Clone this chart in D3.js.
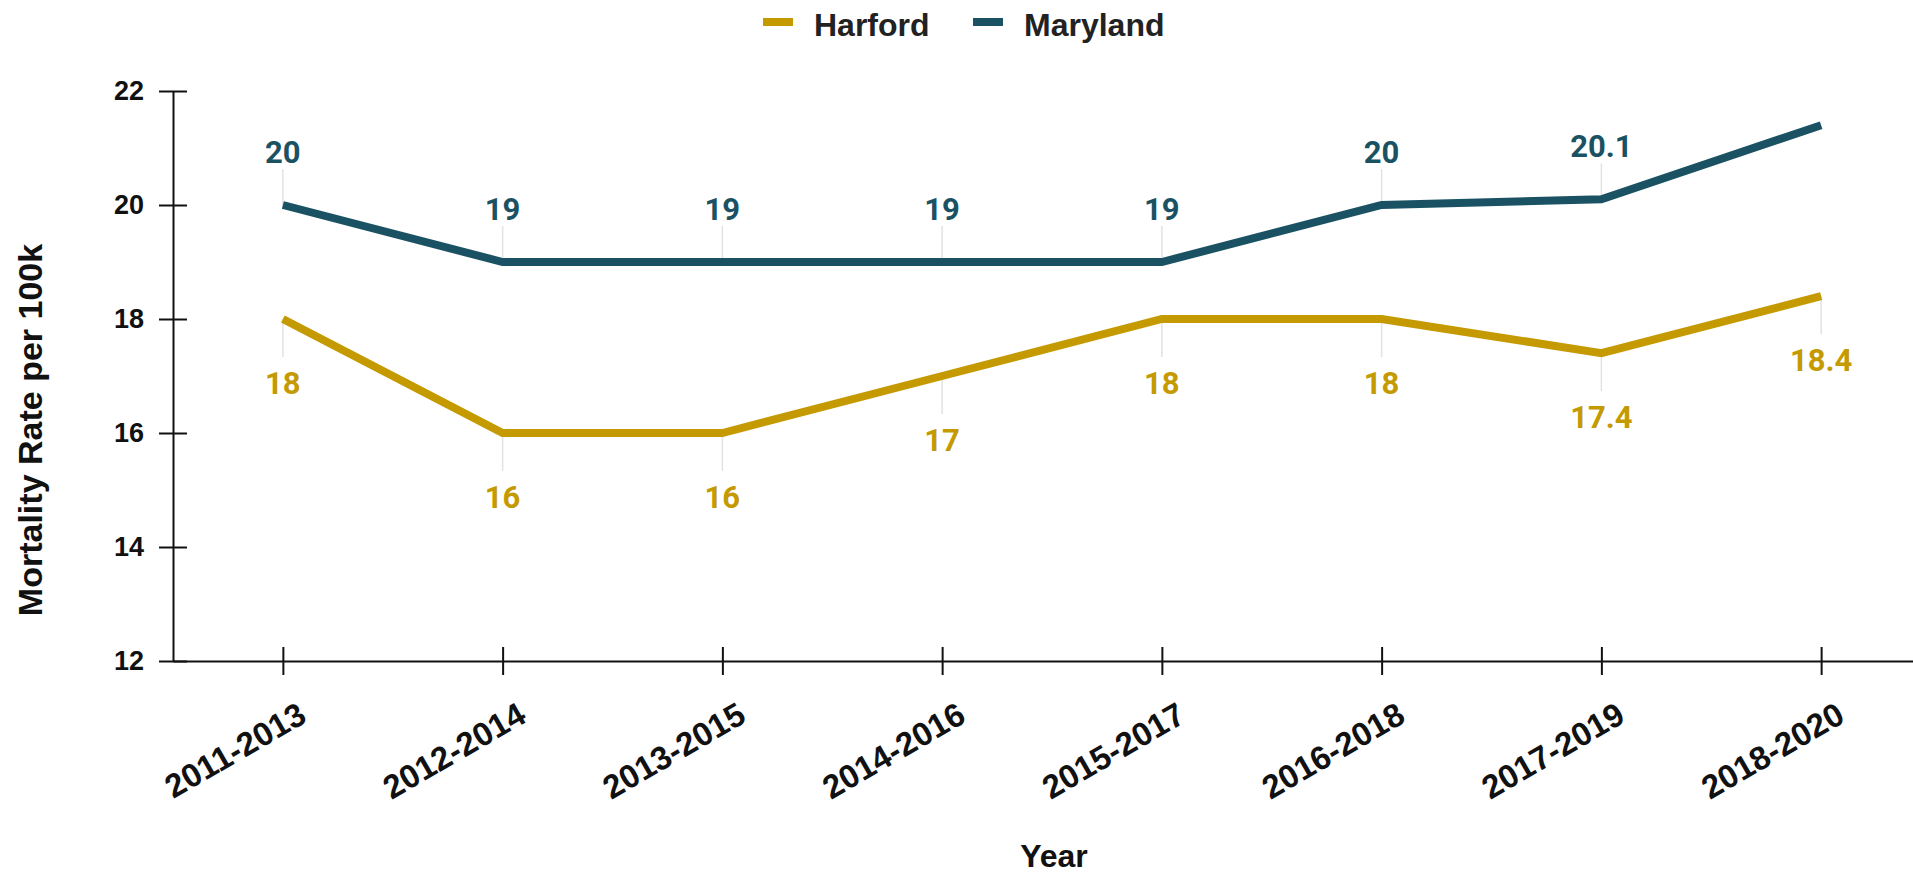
<!DOCTYPE html>
<html>
<head>
<meta charset="utf-8">
<script src="https://cdn.jsdelivr.net/npm/d3@7"></script>
<style>
  body { margin: 0; background: #fff; }
  svg { display: block; }
</style>
</head>
<body>
<div id="chart"></div>
<script>
// data
var periods = ["2011-2013", "2012-2014", "2013-2015", "2014-2016", "2015-2017", "2016-2018", "2017-2019", "2018-2020"];
var harford = [18, 16, 16, 17, 18, 18, 17.4, 18.4];
var maryland = [20, 19, 19, 19, 19, 20, 20.1, 21.4];
var marylandLabelled = [true, true, true, true, true, true, true, false];
var yTicks = [12, 14, 16, 18, 20, 22];
var seriesNames = ["Harford", "Maryland"];

var width = 1913,
    height = 875;

var colors = {
    Harford: "#c49a00",
    Maryland: "#1a5263"
};

var svg = d3.select("#chart")
    .append("svg")
    .attr("width", width)
    .attr("height", height);

var x = d3.scalePoint()
    .domain(periods)
    .range([173, 1931])
    .padding(0.5);

var y = d3.scaleLinear()
    .domain([12, 22])
    .range([661, 91]);

// y axis, ticks cross the line
var yAxis = svg.append("g")
    .attr("transform", "translate(173,0)")
    .call(d3.axisLeft(y).tickValues(yTicks).tickSize(14).tickSizeOuter(0).tickPadding(15));
yAxis.selectAll(".tick line").attr("x1", 14);
yAxis.select(".domain").attr("stroke", "#111").attr("stroke-width", 2);
yAxis.selectAll(".tick line").attr("stroke", "#111").attr("stroke-width", 2);
yAxis.selectAll(".tick text")
    .attr("fill", "#111")
    .style("font-family", "'Liberation Sans', Arial, sans-serif")
    .style("font-weight", "bold")
    .style("font-size", "27px");

// x axis
var xAxis = svg.append("g")
    .attr("transform", "translate(0,661)")
    .call(d3.axisBottom(x).tickSize(14).tickSizeOuter(0));
xAxis.selectAll(".tick line").attr("y1", -14);
xAxis.select(".domain").attr("stroke", "#111").attr("stroke-width", 2);
xAxis.selectAll(".tick line").attr("stroke", "#111").attr("stroke-width", 2);
xAxis.selectAll(".tick text")
    .attr("fill", "#111")
    .attr("text-anchor", "end")
    .attr("y", 0)
    .attr("dy", 0)
    .attr("transform", "translate(25,60) rotate(-30)")
    .style("font-family", "'Liberation Sans', Arial, sans-serif")
    .style("font-weight", "bold")
    .style("font-size", "33px");

// axis titles
svg.append("text")
    .attr("transform", "translate(42,430) rotate(-90)")
    .attr("text-anchor", "middle")
    .attr("fill", "#111")
    .style("font-family", "'Liberation Sans', Arial, sans-serif")
    .style("font-weight", "bold")
    .style("font-size", "34px")
    .text("Mortality Rate per 100k");

svg.append("text")
    .attr("x", 1054)
    .attr("y", 867)
    .attr("text-anchor", "middle")
    .attr("fill", "#111")
    .style("font-family", "'Liberation Sans', Arial, sans-serif")
    .style("font-weight", "bold")
    .style("font-size", "32px")
    .text("Year");

// leader lines
svg.append("g").selectAll("line")
    .data(harford)
    .enter()
    .append("line")
    .attr("x1", function(d, i) { return x(periods[i]); })
    .attr("x2", function(d, i) { return x(periods[i]); })
    .attr("y1", function(d) { return y(d); })
    .attr("y2", function(d) { return y(d) + 38; })
    .attr("stroke", "#e2e2e2")
    .attr("stroke-width", 1.5);

svg.append("g").selectAll("line")
    .data(maryland.filter(function(d, i) { return marylandLabelled[i]; }))
    .enter()
    .append("line")
    .attr("x1", function(d, i) { return x(periods[i]); })
    .attr("x2", function(d, i) { return x(periods[i]); })
    .attr("y1", function(d) { return y(d); })
    .attr("y2", function(d) { return y(d) - 36; })
    .attr("stroke", "#e2e2e2")
    .attr("stroke-width", 1.5);

// lines
var line = d3.line()
    .x(function(d, i) { return x(periods[i]); })
    .y(function(d) { return y(d); });

svg.append("path")
    .datum(harford)
    .attr("fill", "none")
    .attr("stroke", colors.Harford)
    .attr("stroke-width", 8)
    .attr("d", line);

svg.append("path")
    .datum(maryland)
    .attr("fill", "none")
    .attr("stroke", colors.Maryland)
    .attr("stroke-width", 8)
    .attr("d", line);

// value labels
svg.append("g").selectAll("text")
    .data(harford)
    .enter()
    .append("text")
    .attr("x", function(d, i) { return x(periods[i]); })
    .attr("y", function(d) { return y(d) + 75; })
    .attr("text-anchor", "middle")
    .attr("fill", colors.Harford)
    .style("font-family", "Roboto, sans-serif")
    .style("font-weight", "bold")
    .style("font-size", "31px")
    .text(function(d) { return d; });

svg.append("g").selectAll("text")
    .data(maryland.filter(function(d, i) { return marylandLabelled[i]; }))
    .enter()
    .append("text")
    .attr("x", function(d, i) { return x(periods[i]); })
    .attr("y", function(d) { return y(d) - 42; })
    .attr("text-anchor", "middle")
    .attr("fill", colors.Maryland)
    .style("font-family", "Roboto, sans-serif")
    .style("font-weight", "bold")
    .style("font-size", "31px")
    .text(function(d) { return d; });

// legend
var legendX = [763, 973];
var legend = svg.append("g").selectAll("g")
    .data(seriesNames)
    .enter()
    .append("g")
    .attr("transform", function(d, i) { return "translate(" + legendX[i] + ",0)"; });

legend.append("rect")
    .attr("x", 0)
    .attr("y", 18)
    .attr("width", 30)
    .attr("height", 8)
    .attr("fill", function(d) { return colors[d]; });

legend.append("text")
    .attr("x", 51)
    .attr("y", 36)
    .attr("fill", "#222")
    .style("font-family", "'Liberation Sans', Arial, sans-serif")
    .style("font-weight", "bold")
    .style("font-size", "32px")
    .text(function(d) { return d; });
</script>
</body>
</html>
